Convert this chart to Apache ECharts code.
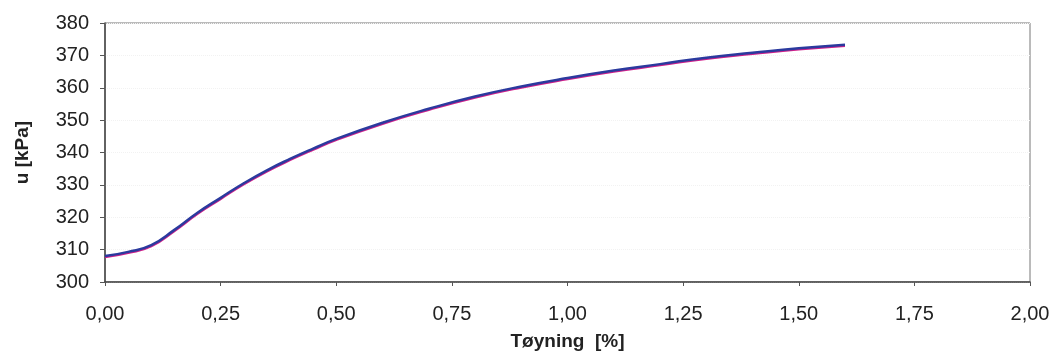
<!DOCTYPE html>
<html>
<head>
<meta charset="utf-8">
<script src="https://cdn.jsdelivr.net/npm/echarts@6/dist/echarts.min.js"></script>
<style>
  html, body { margin: 0; padding: 0; background: #fff; }
  #chart { width: 1058px; height: 361px; }
</style>
</head>
<body>
<div id="chart"></div>
<script>
// tøyning [%]
let strain = [0, 0.05, 0.10, 0.15, 0.20, 0.25, 0.30, 0.35, 0.40, 0.45, 0.50,
  0.60, 0.70, 0.80, 0.90, 1.00, 1.10, 1.20, 1.30, 1.40, 1.50, 1.60];
// poretrykk u [kPa]
let pressure = [308, 309.3, 311.4, 316.1, 321.4, 326, 330.5, 334.5, 338, 341.2, 344.2,
  349.2, 353.5, 357.3, 360.4, 363, 365.3, 367.3, 369.3, 370.8, 372.2, 373.3];
// akseområder
let xTicks = { min: 0, max: 2, step: 0.25 };
let yTicks = { min: 300, max: 380, step: 10 };

let myChart = echarts.init(document.getElementById('chart'));

let points = strain.map((x, i) => [x, pressure[i]]);

let option = {
  backgroundColor: '#fff',
  animation: false,
  textStyle: { fontFamily: 'Liberation Sans, Arial, sans-serif' },
  grid: {
    left: 105,
    right: 28,
    top: 23,
    bottom: 79,
    show: true,
    borderColor: '#777',
    borderWidth: 1
  },
  xAxis: {
    type: 'value',
    min: xTicks.min,
    max: xTicks.max,
    interval: xTicks.step,
    name: 'Tøyning  [%]',
    nameLocation: 'middle',
    nameGap: 50,
    nameTextStyle: { color: '#222', fontSize: 19, fontWeight: 'bold' },
    axisLine: { lineStyle: { color: '#444', width: 1.5 } },
    axisTick: { show: true, length: 4, lineStyle: { color: '#555' } },
    axisLabel: {
      color: '#222',
      fontSize: 20,
      margin: 22,
      formatter: v => v.toFixed(2).replace('.', ',')
    },
    splitLine: { show: false }
  },
  yAxis: {
    type: 'value',
    min: yTicks.min,
    max: yTicks.max,
    interval: yTicks.step,
    name: 'u [kPa]',
    nameLocation: 'middle',
    nameGap: 73,
    nameTextStyle: { color: '#222', fontSize: 19, fontWeight: 'bold' },
    axisLine: { show: true, lineStyle: { color: '#444', width: 1.5 } },
    axisTick: { show: true, length: 5, lineStyle: { color: '#555' } },
    axisLabel: { color: '#222', fontSize: 20, margin: 16 },
    splitLine: { show: true, lineStyle: { color: '#f2f2f2', type: 'dotted' } }
  },
  series: [
    {
      name: 'u',
      type: 'line',
      data: points,
      smooth: 0.5,
      showSymbol: false,
      lineStyle: {
        color: '#2b3a9e',
        width: 2.5,
        shadowColor: '#d0208a',
        shadowBlur: 0,
        shadowOffsetY: 1
      }
    }
  ]
};

myChart.setOption(option);
</script>
</body>
</html>
